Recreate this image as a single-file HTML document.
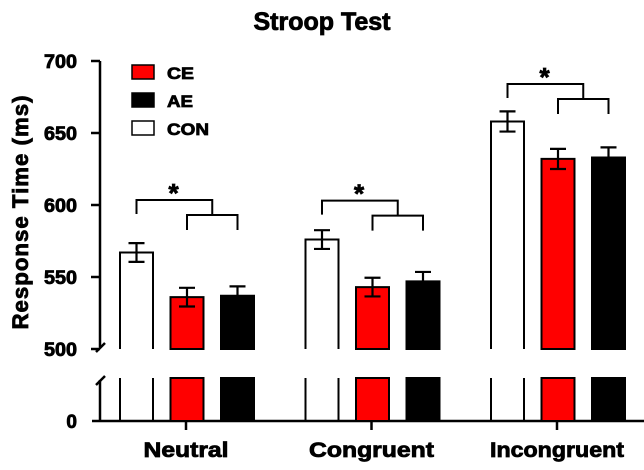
<!DOCTYPE html>
<html><head><meta charset="utf-8"><style>
body{margin:0;background:#fff;}
svg text{font-family:"Liberation Sans",Arial,sans-serif;font-weight:bold;fill:#000;stroke:#000;stroke-width:0.8;}
</style></head><body>
<svg id="chart" width="644" height="465" xmlns="http://www.w3.org/2000/svg">
<text x="322" y="30" font-size="25" text-anchor="middle">Stroop Test</text>
<text transform="translate(28,212) rotate(-90)" font-size="22" letter-spacing="1" text-anchor="middle" textLength="235" lengthAdjust="spacingAndGlyphs">Response Time (ms)</text>
<g id="axes" stroke="#000" stroke-width="2.5" fill="none"></g>
<g id="bars"></g>
<g id="legend"></g>
</svg>
<script>
const categories = ["Neutral","Congruent","Incongruent"];
const seriesNames = ["CON","CE","AE"];
const conValues = [567, 576, 658];
const ceValues = [536, 543, 632];
const aeValues = [537, 547, 633];
const conErr = [6.5, 6.5, 7];
const ceErr = [6.5, 6.5, 7];
const aeErr = [6.5, 6.5, 7];
const yTicks = [500, 550, 600, 650, 700];
const sigLevels = [603.5, 603, 684];
const sigLabels = ["*","*","*"];

const NS="http://www.w3.org/2000/svg";
const svg=document.getElementById('chart');
const axes=document.getElementById('axes');
const barsG=document.getElementById('bars');
const legendG=document.getElementById('legend');
function mk(tag,attrs,parent){const e=document.createElementNS(NS,tag);for(const k in attrs)e.setAttribute(k,attrs[k]);parent.appendChild(e);return e;}
function y(v){return 349-(v-500)*72/50;}
const base=421, lowTop=378;
function gx(i){return 186+i*185.5;}
const fills={CON:"#fff",CE:"#f00",AE:"#000"};
const vals={CON:conValues,CE:ceValues,AE:aeValues};
const errs={CON:conErr,CE:ceErr,AE:aeErr};

let a;
a=mk('line',{x1:100,y1:61,x2:100,y2:347},axes);

a=mk('line',{x1:100,y1:380,x2:100,y2:421},axes);

a=mk('line',{x1:96,y1:352,x2:105,y2:343},axes);

a=mk('line',{x1:96,y1:385,x2:105,y2:376},axes);

a=mk('line',{x1:92,y1:base,x2:644,y2:base},axes);

yTicks.forEach(t=>{
 const l=mk('line',{x1:91,y1:y(t),x2:100,y2:y(t)},axes);
 
 const tx=mk('text',{x:77,y:y(t)+7,'font-size':19,'text-anchor':'end',textLength:33,lengthAdjust:'spacingAndGlyphs'},svg);
 tx.textContent=t;
 
});
const z=mk('text',{x:77,y:base+7,'font-size':19,'text-anchor':'end'},svg);
z.textContent='0';


const catLens=[85,125,134];
categories.forEach((c,i)=>{
 const cx=gx(i);
 const tk=mk('line',{x1:cx,y1:base,x2:cx,y2:base+9,stroke:'#000','stroke-width':2.5},svg);
 
 const lab=mk('text',{x:cx,y:457,'font-size':21,'text-anchor':'middle',textLength:catLens[i],lengthAdjust:'spacingAndGlyphs'},svg);
 lab.textContent=c;
 
 const xs={};
 seriesNames.forEach((s,j)=>{
  const x0=cx-66+j*50.5, w=33;
  xs[s]=x0+w/2;
  const v=vals[s][i], e=errs[s][i], top=y(v);
  const f=fills[s];
  const hollow=s==='CON';
  const r1=mk('path',{d:hollow?`M${x0},${y(500)}V${top}H${x0+w}V${y(500)}`:`M${x0},${y(500)}V${top}H${x0+w}V${y(500)}Z`,fill:f,stroke:'#000','stroke-width':2},barsG);
  
  const r2=mk('path',{d:hollow?`M${x0},${base}V${lowTop}M${x0+w},${lowTop}V${base}`:`M${x0},${base}V${lowTop}H${x0+w}V${base}Z`,fill:f,stroke:'#000','stroke-width':2},barsG);
  
  const m=x0+w/2;
  const eb=mk('path',{d:`M${m},${y(v+e)}V${y(v-e)}M${m-8},${y(v+e)}H${m+8}M${m-8},${y(v-e)}H${m+8}`,stroke:'#000','stroke-width':2.2,fill:'none'},barsG);
  
 });
 const b1=y(sigLevels[i]), b2=b1+15;
 const right=(xs.CE+xs.AE)/2;
 const br=mk('path',{d:`M${xs.CON},${b1+14}V${b1}H${right}V${b2}M${xs.CE},${b2+15}V${b2}H${xs.AE}V${b2+15}`,stroke:'#000','stroke-width':2,fill:'none'},barsG);
 
 const st=mk('text',{x:xs.CON+37,y:b1+2,'font-size':26,'text-anchor':'middle'},svg);
 st.textContent=sigLabels[i];
 
});

const legOrder=["CE","AE","CON"];
const legLens=[27,26,42];
legOrder.forEach((s,k)=>{
 const yy=65+k*28;
 const r=mk('rect',{x:132,y:yy,width:22,height:14,fill:fills[s],stroke:'#000','stroke-width':1.5},legendG);
 
 const t=mk('text',{x:167,y:yy+14,'font-size':17,textLength:legLens[k],lengthAdjust:'spacingAndGlyphs'},legendG);
 t.textContent=s;
 
});
</script>
</body></html>
